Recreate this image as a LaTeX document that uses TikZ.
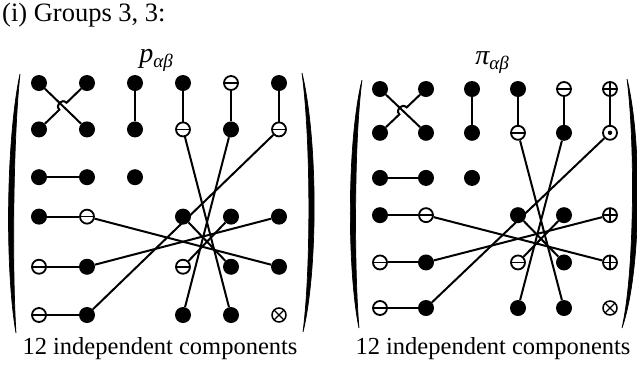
\documentclass[tikz,border=0pt]{standalone}
\usepackage{fontspec}
\setmainfont{Liberation Serif}
\usetikzlibrary{calc}
\tikzset{
  fd/.style={circle,fill=black,inner sep=0pt,minimum size=16pt},
  hb/.style={circle,draw=black,line width=1.8pt,fill=white,inner sep=0pt,minimum size=14pt},
  om/.style={hb,path picture={\draw[black,line width=1.6pt] (path picture bounding box.west) -- (path picture bounding box.east);}},
  op/.style={hb,path picture={\draw[black,line width=1.5pt] (path picture bounding box.west) -- (path picture bounding box.east) (path picture bounding box.north) -- (path picture bounding box.south);}},
  odt/.style={hb,path picture={\fill[black] (path picture bounding box.center) circle[radius=2.2pt];}},
  ox/.style={hb,line width=1.5pt,path picture={\draw[black,line width=1.3pt] (path picture bounding box.north west) -- (path picture bounding box.south east) (path picture bounding box.north east) -- (path picture bounding box.south west);}},
  ln/.style={line width=2pt},
  paren/.style={fill=black,draw=black,line width=0.7pt},
  txt/.style={font=\fontsize{24.5}{28}\selectfont},
}
% #1 prefix, #2 r1c6, #3 r2c6, #4 r4c6, #5 r5c6
\newcommand\drawmat[5]{%
  \node[fd] (#111) at (0,0) {};
  \node[fd] (#112) at (1,0) {};
  \node[fd] (#113) at (2,0) {};
  \node[fd] (#114) at (3,0) {};
  \node[om] (#115) at (4,0) {};
  \node[#2] (#116) at (5,0) {};
  \node[fd] (#121) at (0,1) {};
  \node[fd] (#122) at (1,1) {};
  \node[fd] (#123) at (2,1) {};
  \node[om] (#124) at (3,1) {};
  \node[fd] (#125) at (4,1) {};
  \node[#3] (#126) at (5,1) {};
  \node[fd] (#131) at (0,2.03) {};
  \node[fd] (#132) at (1,2.03) {};
  \node[fd] (#133) at (2,2.03) {};
  \node[fd] (#141) at (0,2.88) {};
  \node[om] (#142) at (1,2.88) {};
  \node[fd] (#144) at (3,2.88) {};
  \node[fd] (#145) at (4,2.88) {};
  \node[#4] (#146) at (5,2.88) {};
  \node[om] (#151) at (0,3.96) {};
  \node[fd] (#152) at (1,3.96) {};
  \node[om] (#154) at (3,3.96) {};
  \node[fd] (#155) at (4,3.96) {};
  \node[#5] (#156) at (5,3.96) {};
  \node[om] (#161) at (0,5) {};
  \node[fd] (#162) at (1,5) {};
  \node[fd] (#164) at (3,5) {};
  \node[fd] (#165) at (4,5) {};
  \node[ox] (#166) at (5,5) {};
  \coordinate (#1C) at ($(#111)!0.5!(#122)$);
  \coordinate (#1hA) at ($(#1C)!5pt!(#121)$);
  \coordinate (#1hB) at ($(#1C)!5pt!(#112)$);
  \coordinate (#1hAc) at ($(#1hA)!6.5pt!90:(#1hB)$);
  \coordinate (#1hBc) at ($(#1hB)!6.5pt!-90:(#1hA)$);
  \draw[ln] (#111) -- (#122);
  \draw[ln] (#121) -- (#1hA) .. controls (#1hAc) and (#1hBc) .. (#1hB) -- (#112);
  \draw[ln] (#113) -- (#123);
  \draw[ln] (#114) -- (#124);
  \draw[ln] (#115) -- (#125);
  \draw[ln] (#116) -- (#126);
  \draw[ln] (#131) -- (#132);
  \draw[ln] (#141) -- (#142);
  \draw[ln] (#151) -- (#152);
  \draw[ln] (#161) -- (#162);
  \draw[ln] (#142) -- (#156);
  \draw[ln] (#152) -- (#146);
  \draw[ln] (#162) -- (#126);
  \draw[ln] (#124) -- (#165);
  \draw[ln] (#125) -- (#164);
  \draw[ln] (#144) -- (#155);
  \draw[ln] (#145) -- (#154);
}
\begin{document}
\begin{tikzpicture}[x=1pt,y=-1pt]
\useasboundingbox (0,0) rectangle (637,368);
\node[anchor=base west,inner sep=0pt] (title) at (2,21) {\fontsize{26.5}{30}\selectfont (i) Groups 3, 3:};
% parentheses, left matrix
\path[paren] (20,74) .. controls (6,140) and (5,270) .. (16,333) .. controls (12,270) and (13,140) .. (20,74);
\path[paren] (302,73) .. controls (318,140) and (318,270) .. (303,332) .. controls (311,270) and (311,140) .. (302,73);
% parentheses, right matrix
\path[paren] (362,80) .. controls (347,140) and (347,270) .. (359,328) .. controls (354,270) and (354,140) .. (362,80);
\path[paren] (627,79) .. controls (642,140) and (642,270) .. (622,328) .. controls (635,270) and (635,140) .. (627,79);
\node[anchor=base,inner sep=0pt] (plab) at (156,62) {\fontsize{28}{32}\selectfont\itshape p\raisebox{-5pt}{\fontsize{19}{19}\selectfont αβ}};
\node[anchor=base,inner sep=0pt] (pilab) at (492,64) {\fontsize{28}{32}\selectfont\itshape π\raisebox{-5pt}{\fontsize{19}{19}\selectfont αβ}};
\begin{scope}[shift={(39,83)},x=48pt,y=-46.4pt]
  \drawmat{L}{fd}{om}{fd}{fd}
\end{scope}
\begin{scope}[shift={(380,89)},x=46pt,y=-43.8pt]
  \drawmat{R}{op}{odt}{op}{op}
\end{scope}
\node[txt,anchor=base,inner sep=0pt] (capL) at (160,354) {12 independent components};
\node[txt,anchor=base,inner sep=0pt] (capR) at (493,354) {12 independent components};
\end{tikzpicture}
\end{document}
